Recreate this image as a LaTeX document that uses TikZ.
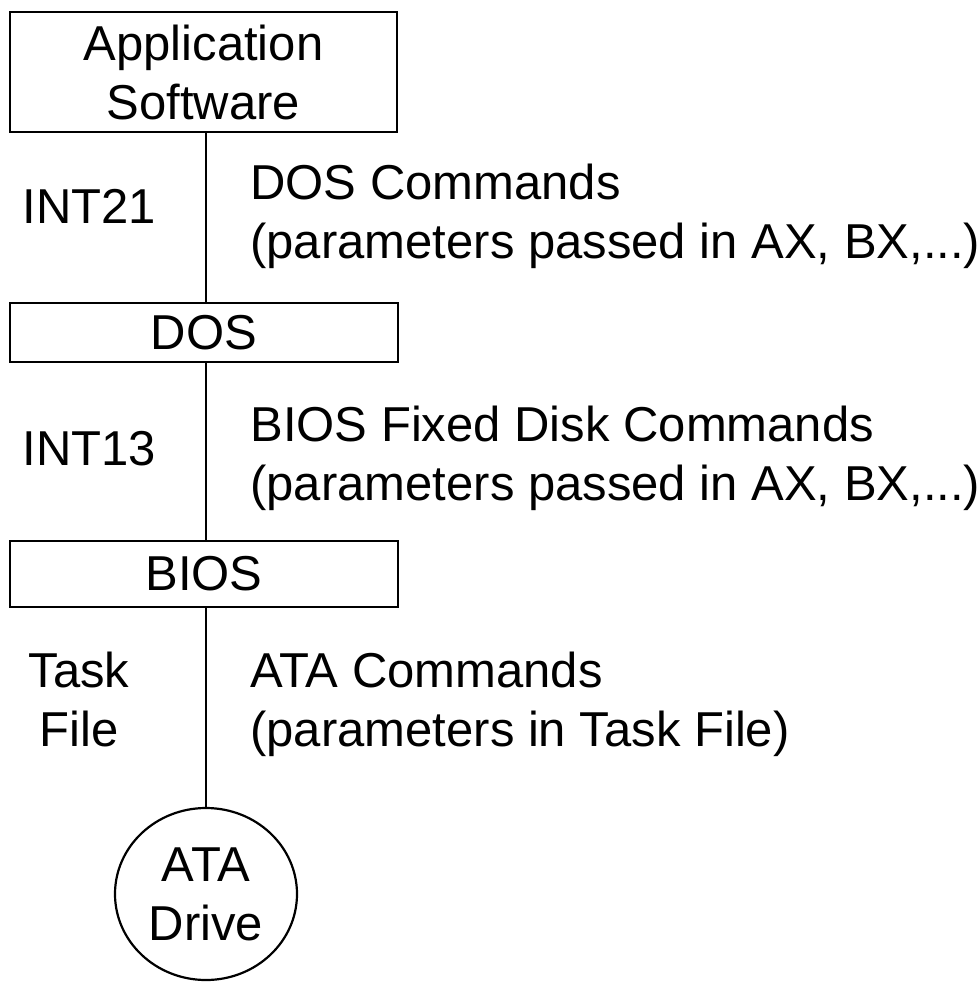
\documentclass[tikz,border=0pt]{standalone}
\usepackage{fontspec}
\setmainfont{Liberation Sans}
\usetikzlibrary{shapes.geometric}
\begin{document}
\begin{tikzpicture}[x=0.5pt,y=-0.5pt,
  every node/.style={font=\fontsize{24.5}{29.5}\selectfont},
  layerbox/.style={draw,line width=1.2pt,rectangle,inner sep=0pt,align=center},
  drivebox/.style={draw,line width=1.1pt,ellipse,inner sep=0pt,align=center,minimum width=91pt,minimum height=86pt},
  lbl/.style={inner sep=0pt,anchor=base west,align=left},
  link/.style={line width=0.8pt}]
\useasboundingbox (0,0) rectangle (978,987);
\node[layerbox,minimum width=193.5pt,minimum height=60pt] (app) at (203.5,72) {Application\\Software};
\node[layerbox,minimum width=194pt,minimum height=29.5pt] (dos) at (204,332.5) {DOS};
\node[layerbox,minimum width=194pt,minimum height=33pt] (bios) at (204,574) {BIOS};
\node[drivebox] (drive) at (206,894) {ATA\\Drive};
\draw[link] (app.south -| drive.north) -- (dos.north -| drive.north);
\draw[link] (dos.south -| drive.north) -- (bios.north -| drive.north);
\draw[link] (bios.south -| drive.north) -- (drive.north);
\node[lbl] (dcmd) at (250,258) {DOS Commands\\(parameters passed in AX, BX,...)};
\node[lbl] (bcmd) at (250,500) {BIOS Fixed Disk Commands\\(parameters passed in AX, BX,...)};
\node[lbl] (acmd) at (250,746) {ATA Commands\\(parameters in Task File)};
\node[lbl] (int21) at (22,223) {INT21};
\node[lbl] (int13) at (22,465) {INT13};
\node[inner sep=0pt,anchor=base,align=center] (tf) at (79,746) {Task\\File};
\end{tikzpicture}
\end{document}
